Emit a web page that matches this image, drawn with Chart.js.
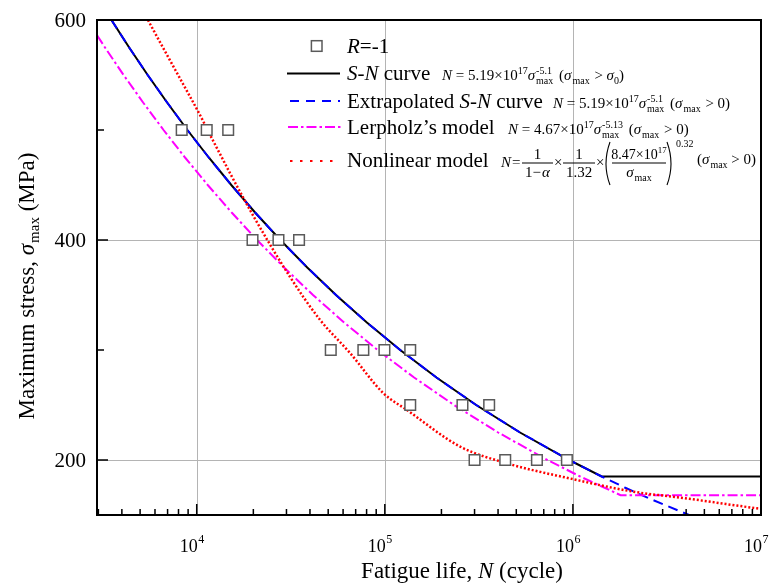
<!DOCTYPE html>
<html>
<head>
<meta charset="utf-8">
<script src="https://cdn.jsdelivr.net/npm/chart.js@4.4.0/dist/chart.umd.min.js"></script>
<style>
  html, body { margin: 0; padding: 0; background: #fff; }
  #wrap { width: 774px; height: 584px; }
</style>
</head>
<body>
<div id="wrap"><canvas id="graficoSN" width="774" height="584"></canvas></div>
<script>
// ensaios R=-1
const pontosN = [8320, 11300, 14700, 19800, 27200, 35000, 51600, 76900, 99500, 136500, 136500, 258700, 358700, 300000, 436700, 643700, 929000];
const pontosS = [500, 500, 500, 400, 400, 400, 300, 300, 300, 300, 250, 250, 250, 200, 200, 200, 200];

// curva S-N (preta), horizontal em sigma_0
const curvaN = [3520, 4373, 5486, 6960, 8920, 11590, 15270, 20430, 27830, 38690, 55010, 80270, 120700, 188200, 306000, 523500, 954900, 1421000, 10000000];
const curvaS = [600, 575, 550, 525, 500, 475, 450, 425, 400, 375, 350, 325, 300, 275, 250, 225, 200, 185, 185];

// curva S-N extrapolada (azul tracejada)
const extrapN = [3520, 4373, 5486, 6960, 8920, 11590, 15270, 20430, 27830, 38690, 55010, 80270, 120700, 188200, 306000, 523500, 954900, 1421000, 1886000, 2547000, 4141000];
const extrapS = [600, 575, 550, 525, 500, 475, 450, 425, 400, 375, 350, 325, 300, 275, 250, 225, 200, 185, 175, 165, 150];

// modelo de Lerpholz (magenta)
const lerpN = [2615, 3253, 4085, 5187, 6662, 8666, 11440, 15340, 20930, 29140, 41520, 60730, 91550, 143100, 233300, 400500, 732900, 1093000, 1793000, 10000000];
const lerpS = [600, 575, 550, 525, 500, 475, 450, 425, 400, 375, 350, 325, 300, 275, 250, 225, 200, 185, 168, 168];

// modelo nao linear (vermelho pontilhado)
const naoLinN = [5500, 7670, 10410, 11780, 19200, 31300, 45300, 65300, 98400, 131000, 251800, 446000, 1007000, 2099000, 3860000, 9530000, 10000000];
const naoLinS = [600, 555, 513.6, 495.5, 427.3, 366.6, 327.3, 297.3, 260.6, 245.5, 212.1, 197, 182.5, 171.2, 165.5, 156.1, 155.7];

// eixos
const decadasX = [4, 5, 6, 7];
const rotulosY = [200, 400, 600];
const marcasY = [200, 300, 400, 500];

const pares = (xs, ys) => xs.map((x, i) => ({ x: x, y: ys[i] }));
const SERIF = '"Liberation Serif", "Times New Roman", serif';

function texto(ctx, t, x, y, tam, italico, desenhar) {
    ctx.font = (italico ? 'italic ' : '') + tam + 'px ' + SERIF;
    if (desenhar) ctx.fillText(t, x, y);
    return ctx.measureText(t).width;
}

// desenha uma sequencia de pedacos de texto (sobrescrito/subscrito via dy)
function linhaRica(ctx, x, y, partes, desenhar = true) {
    let cx = x;
    partes.forEach(p => {
        if (p.sup !== undefined) {
            const w1 = texto(ctx, p.sup, cx, y + p.dyA, p.s, false, desenhar);
            const w2 = texto(ctx, p.sub, cx, y + p.dyB, p.s, false, desenhar);
            cx += Math.max(w1, w2);
        } else {
            cx += texto(ctx, p.t, cx, y + (p.dy || 0), p.s, p.i, desenhar);
        }
        cx += p.g || 0;
    });
    return cx - x;
}

// fracao com largura fixa da barra
function fracao(ctx, x, yb, num, den, w) {
    const wn = linhaRica(ctx, 0, 0, num, false);
    const wd = linhaRica(ctx, 0, 0, den, false);
    linhaRica(ctx, x + (w - wn) / 2, yb - 4, num);
    linhaRica(ctx, x + (w - wd) / 2, yb + 14, den);
    ctx.fillRect(x, yb - 0.5, w, 1);
}

function parentese(ctx, x, yb, abre) {
    ctx.save();
    ctx.lineWidth = 1.1;
    ctx.strokeStyle = '#000';
    ctx.beginPath();
    if (abre) {
        ctx.moveTo(x + 7, yb - 21);
        ctx.quadraticCurveTo(x - 1, yb + 1, x + 7, yb + 22);
    } else {
        ctx.moveTo(x + 1, yb - 21);
        ctx.quadraticCurveTo(x + 9, yb + 1, x + 1, yb + 22);
    }
    ctx.stroke();
    ctx.restore();
}

function formulaPotencia(coef, expo, cond) {
    const F = 15, f = 10;
    const partes = [
        { t: 'N', s: F, i: true },
        { t: ' = ' + coef + '×10', s: F },
        { t: '17', s: f, dy: -6 },
        { t: 'σ', s: F, i: true, g: 1 },
        { sup: expo, sub: 'max', s: f, dyA: -6, dyB: 4, g: 2 },
        { t: ' (', s: F },
        { t: 'σ', s: F, i: true, g: 1 },
        { t: 'max', s: f, dy: 4, g: 1 },
        { t: ' > ', s: F }
    ];
    if (cond === 's0') {
        partes.push({ t: 'σ', s: F, i: true }, { t: '0', s: f, dy: 4 }, { t: ')', s: F });
    } else {
        partes.push({ t: '0)', s: F });
    }
    return partes;
}

function formulaNaoLinear(ctx, base) {
    const F = 15, f = 10;
    const barra = base - 4;
    texto(ctx, 'N', 501, base, F, true, true);
    texto(ctx, '=', 512, base, F, false, true);
    fracao(ctx, 522, barra, [{ t: '1', s: F }], [{ t: '1−', s: F, g: 1 }, { t: 'α', s: F, i: true }], 31);
    texto(ctx, '×', 554, base, F, false, true);
    fracao(ctx, 563, barra, [{ t: '1', s: F }], [{ t: '1.32', s: F }], 32);
    texto(ctx, '×', 596, base, F, false, true);
    parentese(ctx, 603, barra, true);
    fracao(ctx, 612, barra, [{ t: '8.47×10', s: 14 }, { t: '17', s: 9, dy: -6 }],
        [{ t: 'σ', s: F, i: true, g: 1 }, { t: 'max', s: f, dy: 4 }], 54);
    parentese(ctx, 666, barra, false);
    texto(ctx, '0.32', 676, barra - 16, f, false, true);
    linhaRica(ctx, 697, base - 3, [
        { t: '(', s: F }, { t: 'σ', s: F, i: true, g: 1 }, { t: 'max', s: f, dy: 4 }, { t: ' > 0)', s: F }
    ]);
}

const desenhoExtra = {
    id: 'desenhoExtra',
    beforeDatasetsDraw(chart) {
        const { ctx, chartArea: a, scales: { x: sx, y: sy } } = chart;
        ctx.save();
        ctx.strokeStyle = '#b4b4b4';
        ctx.lineWidth = 1;
        ctx.beginPath();
        [4, 5, 6].forEach(d => {
            const px = Math.round(sx.getPixelForValue(Math.pow(10, d))) + 0.5;
            ctx.moveTo(px, a.top);
            ctx.lineTo(px, a.bottom);
        });
        [200, 400].forEach(v => {
            const py = Math.round(sy.getPixelForValue(v)) + 0.5;
            ctx.moveTo(a.left, py);
            ctx.lineTo(a.right, py);
        });
        ctx.stroke();
        ctx.restore();
    },
    afterDatasetsDraw(chart) {
        const { ctx, chartArea: a, scales: { x: sx, y: sy } } = chart;
        ctx.save();
        ctx.fillStyle = '#000';
        ctx.strokeStyle = '#000';

        // marcas do eixo x
        ctx.lineWidth = 1.5;
        ctx.beginPath();
        for (let d = 3; d <= 6; d++) {
            for (let k = 1; k <= 9; k++) {
                const v = k * Math.pow(10, d);
                if (v < sx.min || v >= sx.max) continue;
                const px = sx.getPixelForValue(v);
                ctx.moveTo(px, a.bottom);
                ctx.lineTo(px, a.bottom - (k === 1 ? 11 : 6));
            }
        }
        marcasY.forEach(v => {
            const py = sy.getPixelForValue(v);
            ctx.moveTo(a.left, py);
            ctx.lineTo(a.left + (v % 200 === 0 ? 11 : 7), py);
        });
        ctx.stroke();

        // moldura
        ctx.lineWidth = 2;
        ctx.strokeRect(a.left, a.top, a.right - a.left, a.bottom - a.top);

        // rotulos y
        ctx.textAlign = 'right';
        ctx.textBaseline = 'middle';
        ctx.font = '21px ' + SERIF;
        rotulosY.forEach(v => ctx.fillText(String(v), a.left - 11, sy.getPixelForValue(v) + 1));

        // rotulos x (10^n)
        ctx.textBaseline = 'alphabetic';
        decadasX.forEach(d => {
            const px = sx.getPixelForValue(Math.pow(10, d));
            ctx.textAlign = 'right';
            ctx.font = '18px ' + SERIF;
            ctx.fillText('10', px + 1, 552);
            ctx.textAlign = 'left';
            ctx.font = '12px ' + SERIF;
            ctx.fillText(String(d), px + 1.5, 543);
        });

        // titulos dos eixos
        ctx.textAlign = 'left';
        const tituloX = [{ t: 'Fatigue life, ', s: 23 }, { t: 'N', s: 23, i: true }, { t: ' (cycle)', s: 23 }];
        const wx = linhaRica(ctx, 0, 0, tituloX, false);
        linhaRica(ctx, 462 - wx / 2, 578, tituloX);

        const tituloY = [{ t: 'Maximum stress, ', s: 23 }, { t: 'σ', s: 23, i: true, g: 1 }, { t: 'max', s: 15, dy: 5 }, { t: ' (MPa)', s: 23 }];
        const wy = linhaRica(ctx, 0, 0, tituloY, false);
        ctx.save();
        ctx.translate(34, 286);
        ctx.rotate(-Math.PI / 2);
        linhaRica(ctx, -wy / 2, 0, tituloY);
        ctx.restore();

        // legenda
        const xt = 347;
        ctx.lineWidth = 1.5;
        ctx.strokeStyle = '#5a5a5a';
        ctx.fillStyle = '#fff';
        ctx.fillRect(311.4, 40.7, 10.6, 10.6);
        ctx.strokeRect(311.4, 40.7, 10.6, 10.6);
        ctx.fillStyle = '#000';
        linhaRica(ctx, xt, 53, [{ t: 'R', s: 21, i: true }, { t: '=-1', s: 21 }]);

        const amostra = (y, cor, largura, traco, x1, x2) => {
            ctx.save();
            ctx.strokeStyle = cor;
            ctx.lineWidth = largura;
            ctx.setLineDash(traco);
            ctx.beginPath();
            ctx.moveTo(x1, y);
            ctx.lineTo(x2, y);
            ctx.stroke();
            ctx.restore();
        };
        amostra(73.5, '#000', 2, [], 287, 340);
        amostra(101, '#0000ff', 2, [9, 7], 290, 340);
        amostra(127, '#ff00ff', 2, [10, 3, 2.5, 3], 288, 341);
        amostra(161, '#ff0000', 2, [2.5, 7.5], 290, 338);

        linhaRica(ctx, xt, 80, [{ t: 'S-N', s: 21, i: true }, { t: ' curve', s: 21 }]);
        linhaRica(ctx, 442, 80, formulaPotencia('5.19', '-5.1', 's0'));

        linhaRica(ctx, xt, 108, [{ t: 'Extrapolated ', s: 21 }, { t: 'S-N', s: 21, i: true }, { t: ' curve', s: 21 }]);
        linhaRica(ctx, 553, 108, formulaPotencia('5.19', '-5.1', '0'));

        linhaRica(ctx, xt, 134, [{ t: 'Lerpholz’s model', s: 21 }]);
        linhaRica(ctx, 508, 134, formulaPotencia('4.67', '-5.13', '0'));

        linhaRica(ctx, xt, 167, [{ t: 'Nonlinear model', s: 21 }]);
        formulaNaoLinear(ctx, 167);

        ctx.restore();
    }
};

new Chart(document.getElementById('graficoSN'), {
    type: 'scatter',
    data: {
        datasets: [
            {
                label: 'R=-1',
                data: pares(pontosN, pontosS),
                showLine: false,
                pointStyle: 'rect',
                pointRadius: 7.5,
                borderColor: '#5a5a5a',
                backgroundColor: '#ffffff',
                borderWidth: 1.5,
                order: 0
            },
            {
                label: 'Nonlinear model',
                data: pares(naoLinN, naoLinS),
                showLine: true,
                borderColor: '#ff0000',
                borderWidth: 2.5,
                borderDash: [2, 2],
                pointRadius: 0,
                cubicInterpolationMode: 'monotone',
                order: 1
            },
            {
                label: "Lerpholz's model",
                data: pares(lerpN, lerpS),
                showLine: true,
                borderColor: '#ff00ff',
                borderWidth: 2,
                borderDash: [10, 3, 2.5, 3],
                pointRadius: 0,
                order: 2
            },
            {
                label: 'Extrapolated S-N curve',
                data: pares(extrapN, extrapS),
                showLine: true,
                borderColor: '#0000ff',
                borderWidth: 2,
                borderDash: [10, 6],
                pointRadius: 0,
                order: 3
            },
            {
                label: 'S-N curve',
                data: pares(curvaN, curvaS),
                showLine: true,
                borderColor: '#000000',
                borderWidth: 2,
                pointRadius: 0,
                order: 4
            }
        ]
    },
    options: {
        responsive: false,
        animation: false,
        devicePixelRatio: 1,
        layout: { padding: { top: 20, right: 13, left: 0, bottom: 0 } },
        plugins: { legend: { display: false }, tooltip: { enabled: false } },
        scales: {
            x: {
                type: 'logarithmic',
                min: 2950,
                max: 10000000,
                ticks: { display: false },
                grid: { display: false },
                border: { display: false },
                afterFit: s => { s.height = 69; }
            },
            y: {
                type: 'linear',
                min: 150,
                max: 600,
                ticks: { display: false },
                grid: { display: false },
                border: { display: false },
                afterFit: s => { s.width = 97; }
            }
        }
    },
    plugins: [desenhoExtra]
});
</script>
</body>
</html>
